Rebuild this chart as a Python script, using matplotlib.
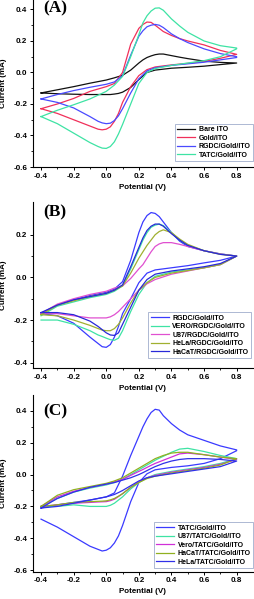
import matplotlib
matplotlib.use("Agg")
import matplotlib.pyplot as plt
import numpy as np

plt.rcParams['font.family'] = ['Liberation Sans', 'DejaVu Sans']
plt.rcParams['font.weight'] = 'bold'

# potential grids (V): forward (upper) branch and reverse (lower) branch
V_UP = [-0.4, -0.3, -0.2, -0.1, 0.0, 0.05, 0.1, 0.15, 0.2, 0.225, 0.25, 0.275, 0.3, 0.325, 0.35, 0.4, 0.45, 0.5, 0.6, 0.7, 0.8]
V_DN = [0.8, 0.7, 0.6, 0.5, 0.4, 0.3, 0.25, 0.2, 0.15, 0.1, 0.075, 0.05, 0.025, 0.0, -0.025, -0.05, -0.1, -0.2, -0.3, -0.4]

# ---- Panel A (current, mA)
a_labels = ["Bare ITO", "Gold/ITO", "RGDC/Gold/ITO", "TATC/Gold/ITO"]
a_bare_up = [-0.13, -0.11, -0.09, -0.068, -0.048, -0.034, -0.018, 0.015, 0.06, 0.08, 0.095, 0.105, 0.113, 0.117, 0.117, 0.107, 0.097, 0.088, 0.072, 0.064, 0.06]
a_bare_dn = [0.06, 0.05, 0.04, 0.033, 0.027, 0.015, 0.0, -0.045, -0.095, -0.125, -0.133, -0.137, -0.14, -0.14, -0.14, -0.14, -0.14, -0.138, -0.135, -0.13]
a_gold_up = [-0.23, -0.2, -0.165, -0.12, -0.09, -0.07, 0.0, 0.18, 0.28, 0.305, 0.32, 0.318, 0.30, 0.28, 0.26, 0.235, 0.215, 0.2, 0.175, 0.14, 0.115]
a_gold_dn = [0.115, 0.09, 0.07, 0.058, 0.048, 0.035, 0.018, -0.02, -0.09, -0.19, -0.26, -0.31, -0.345, -0.36, -0.364, -0.36, -0.34, -0.30, -0.26, -0.23]
a_rgdc_up = [-0.168, -0.14, -0.115, -0.094, -0.075, -0.06, -0.02, 0.11, 0.23, 0.265, 0.29, 0.30, 0.305, 0.30, 0.285, 0.245, 0.215, 0.19, 0.15, 0.12, 0.10]
a_rgdc_dn = [0.095, 0.08, 0.065, 0.055, 0.045, 0.03, 0.01, -0.04, -0.13, -0.23, -0.275, -0.305, -0.322, -0.325, -0.32, -0.31, -0.28, -0.225, -0.19, -0.168]
a_tatc_up = [-0.28, -0.24, -0.205, -0.168, -0.12, -0.08, -0.025, 0.1, 0.24, 0.315, 0.36, 0.39, 0.408, 0.41, 0.395, 0.34, 0.295, 0.255, 0.2, 0.17, 0.155]
a_tatc_dn = [0.15, 0.1, 0.075, 0.06, 0.045, 0.025, 0.0, -0.07, -0.2, -0.33, -0.39, -0.44, -0.47, -0.482, -0.48, -0.47, -0.445, -0.385, -0.325, -0.28]

# ---- Panel B
b_labels = ["RGDC/Gold/ITO", "VERO/RGDC/Gold/ITO", "U87/RGDC/Gold/ITO", "HeLa/RGDC/Gold/ITO", "HaCaT/RGDC/Gold/ITO"]
b_rgdc_up = [-0.17, -0.13, -0.105, -0.085, -0.07, -0.055, -0.02, 0.08, 0.21, 0.26, 0.29, 0.304, 0.30, 0.285, 0.26, 0.21, 0.17, 0.145, 0.125, 0.11, 0.10]
b_rgdc_dn = [0.10, 0.08, 0.068, 0.055, 0.045, 0.035, 0.02, -0.025, -0.1, -0.17, -0.23, -0.28, -0.315, -0.328, -0.325, -0.31, -0.28, -0.215, -0.18, -0.17]
b_vero_up = [-0.18, -0.135, -0.115, -0.095, -0.08, -0.065, -0.04, 0.04, 0.13, 0.175, 0.21, 0.235, 0.245, 0.25, 0.243, 0.21, 0.175, 0.15, 0.125, 0.11, 0.10]
b_vero_dn = [0.10, 0.06, 0.045, 0.035, 0.025, 0.005, -0.025, -0.08, -0.16, -0.25, -0.285, -0.295, -0.292, -0.285, -0.277, -0.27, -0.25, -0.22, -0.20, -0.20]
b_u87_up = [-0.17, -0.125, -0.10, -0.08, -0.065, -0.05, -0.04, -0.005, 0.04, 0.06, 0.09, 0.12, 0.145, 0.157, 0.163, 0.163, 0.155, 0.145, 0.125, 0.11, 0.10]
b_u87_dn = [0.10, 0.06, 0.045, 0.03, 0.015, -0.01, -0.03, -0.06, -0.10, -0.14, -0.16, -0.175, -0.185, -0.19, -0.19, -0.19, -0.19, -0.18, -0.17, -0.17]
b_hela_up = [-0.175, -0.13, -0.11, -0.09, -0.075, -0.06, -0.04, 0.02, 0.09, 0.12, 0.15, 0.175, 0.2, 0.215, 0.223, 0.21, 0.18, 0.155, 0.125, 0.108, 0.10]
b_hela_dn = [0.10, 0.06, 0.045, 0.032, 0.02, 0.0, -0.025, -0.06, -0.12, -0.19, -0.22, -0.24, -0.25, -0.25, -0.247, -0.24, -0.225, -0.20, -0.18, -0.175]
b_hacat_up = [-0.165, -0.13, -0.105, -0.09, -0.075, -0.06, -0.035, 0.05, 0.14, 0.185, 0.22, 0.24, 0.25, 0.25, 0.24, 0.205, 0.175, 0.15, 0.125, 0.108, 0.10]
b_hacat_dn = [0.10, 0.065, 0.05, 0.04, 0.03, 0.015, -0.01, -0.06, -0.14, -0.22, -0.26, -0.272, -0.27, -0.26, -0.245, -0.23, -0.205, -0.175, -0.165, -0.165]

# ---- Panel C
c_labels = ["TATC/Gold/ITO", "U87/TATC/Gold/ITO", "Vero/TATC/Gold/ITO", "HaCaT/TATC/Gold/ITO", "HeLa/TATC/Gold/ITO"]
c_tatc_up = [-0.21, -0.19, -0.175, -0.16, -0.14, -0.115, -0.01, 0.12, 0.24, 0.3, 0.35, 0.39, 0.41, 0.405, 0.37, 0.32, 0.28, 0.25, 0.215, 0.18, 0.155]
c_tatc_dn = [0.15, 0.1, 0.07, 0.055, 0.045, 0.03, 0.005, -0.05, -0.17, -0.32, -0.385, -0.43, -0.46, -0.475, -0.48, -0.47, -0.45, -0.39, -0.33, -0.28]
c_u87_up = [-0.2, -0.15, -0.11, -0.085, -0.065, -0.05, -0.03, 0.0, 0.03, 0.045, 0.06, 0.075, 0.09, 0.103, 0.115, 0.14, 0.16, 0.165, 0.145, 0.12, 0.10]
c_u87_dn = [0.10, 0.07, 0.05, 0.035, 0.02, 0.0, -0.02, -0.05, -0.09, -0.14, -0.16, -0.18, -0.193, -0.2, -0.2, -0.2, -0.2, -0.19, -0.2, -0.2]
c_vero_up = [-0.2, -0.14, -0.105, -0.08, -0.06, -0.045, -0.03, -0.005, 0.02, 0.032, 0.045, 0.058, 0.07, 0.08, 0.09, 0.11, 0.13, 0.135, 0.125, 0.11, 0.095]
c_vero_dn = [0.095, 0.065, 0.045, 0.03, 0.015, -0.005, -0.02, -0.045, -0.08, -0.12, -0.138, -0.155, -0.164, -0.17, -0.171, -0.172, -0.175, -0.18, -0.19, -0.2]
c_hacat_up = [-0.2, -0.13, -0.095, -0.075, -0.055, -0.04, -0.02, 0.01, 0.04, 0.055, 0.07, 0.085, 0.1, 0.11, 0.12, 0.135, 0.14, 0.14, 0.125, 0.11, 0.1]
c_hacat_dn = [0.1, 0.06, 0.04, 0.025, 0.01, -0.01, -0.025, -0.05, -0.08, -0.12, -0.136, -0.15, -0.159, -0.165, -0.167, -0.168, -0.17, -0.175, -0.19, -0.2]
c_hela_up = [-0.21, -0.15, -0.11, -0.08, -0.06, -0.05, -0.035, -0.02, 0.0, 0.012, 0.025, 0.038, 0.05, 0.06, 0.07, 0.085, 0.095, 0.1, 0.1, 0.095, 0.085]
c_hela_dn = [0.085, 0.05, 0.035, 0.02, 0.005, -0.01, -0.02, -0.04, -0.07, -0.1, -0.113, -0.125, -0.133, -0.14, -0.145, -0.15, -0.16, -0.18, -0.2, -0.21]

a_colors = ["#111111", "#f0305a", "#4a4aff", "#3ee3a4"]
b_colors = ["#3a3aff", "#3ee3a4", "#e050d0", "#a0b030", "#2828d8"]
c_colors = ["#3a3aff", "#3ee3a4", "#d030d8", "#90b020", "#3030e8"]

panels = [
    dict(label="(A)", names=a_labels, colors=a_colors,
         data=[(a_bare_up, a_bare_dn), (a_gold_up, a_gold_dn), (a_rgdc_up, a_rgdc_dn), (a_tatc_up, a_tatc_dn)],
         pos=[0.129, 0.7212, 0.863, 0.2788], ylim=(-0.6, 0.46), yticks=[-0.6, -0.4, -0.2, 0.0, 0.2, 0.4],
         leg=(1.0, 0.036), lab_y=0.995),
    dict(label="(B)", names=b_labels, colors=b_colors,
         data=[(b_rgdc_up, b_rgdc_dn), (b_vero_up, b_vero_dn), (b_u87_up, b_u87_dn), (b_hela_up, b_hela_dn), (b_hacat_up, b_hacat_dn)],
         pos=[0.129, 0.3856, 0.863, 0.2777], ylim=(-0.425, 0.355), yticks=[-0.4, -0.2, 0.0, 0.2],
         leg=(0.99, 0.06), lab_y=0.985),
    dict(label="(C)", names=c_labels, colors=c_colors,
         data=[(c_tatc_up, c_tatc_dn), (c_u87_up, c_u87_dn), (c_vero_up, c_vero_dn), (c_hacat_up, c_hacat_dn), (c_hela_up, c_hela_dn)],
         pos=[0.129, 0.0456, 0.863, 0.295], ylim=(-0.61, 0.5), yticks=[-0.6, -0.4, -0.2, 0.0, 0.2, 0.4],
         leg=(1.0, 0.02), lab_y=0.95),
]

fig = plt.figure(figsize=(2.55, 5.99), dpi=100)
V = np.concatenate([V_UP, V_DN])
for p in panels:
    ax = fig.add_axes(p["pos"])
    for (up, dn), name, col in zip(p["data"], p["names"], p["colors"]):
        ax.plot(V, np.concatenate([up, dn]), color=col, lw=0.9, label=name)
    ax.set_xlim(-0.45, 0.9)
    ax.set_ylim(*p["ylim"])
    ax.set_xticks([-0.4, -0.2, 0.0, 0.2, 0.4, 0.6, 0.8])
    ax.set_xticks(np.arange(-0.4, 0.81, 0.1), minor=True)
    ax.set_yticks(p["yticks"])
    ax.set_yticks(np.arange(p["yticks"][0], p["yticks"][-1] + 0.01, 0.1), minor=True)
    ax.xaxis.set_major_formatter(matplotlib.ticker.FormatStrFormatter('%.1f'))
    ax.yaxis.set_major_formatter(matplotlib.ticker.FormatStrFormatter('%.1f'))
    for s in ['top', 'right']:
        ax.spines[s].set_visible(False)
    for s in ['left', 'bottom']:
        ax.spines[s].set_linewidth(0.8)
    ax.tick_params(which='major', direction='out', length=2.5, width=0.7, labelsize=5.8, pad=1.5)
    ax.tick_params(which='minor', direction='out', length=1.4, width=0.6)
    for t in ax.get_xticklabels() + ax.get_yticklabels():
        t.set_fontweight('bold')
    ax.set_xlabel("Potential (V)", fontsize=5.8, fontweight='bold', labelpad=3)
    ax.set_ylabel("Current (mA)", fontsize=5.8, fontweight='bold')
    ax.yaxis.set_label_coords(-0.118, 0.5)
    ax.text(0.045, p["lab_y"], p["label"], transform=ax.transAxes, va='top', ha='left',
            fontsize=12.5, fontweight='bold', family='Liberation Serif')
    leg = ax.legend(loc='lower right', bbox_to_anchor=p["leg"], fontsize=5.0, frameon=True,
                    fancybox=False, handlelength=2.6, handletextpad=0.5, labelspacing=0.22,
                    borderpad=0.35, borderaxespad=0.0)
    leg.get_frame().set_edgecolor('#8898c0')
    leg.get_frame().set_linewidth(0.6)
    for t in leg.get_texts():
        t.set_fontweight('bold')

fig.savefig("out.png", dpi=100)
